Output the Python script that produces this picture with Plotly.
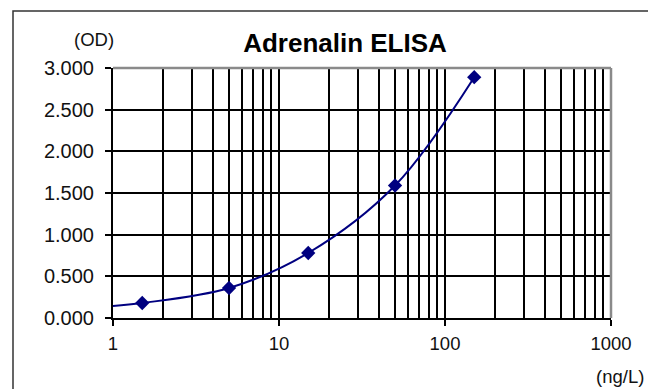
import plotly.graph_objects as go

# Data
conc = [1.5, 5, 15, 50, 150]          # ng/L
od = [0.18, 0.36, 0.78, 1.59, 2.89]  # OD

# fitted curve
curve_x = [1, 1.5, 5, 15, 50, 150]
curve_y = [0.145, 0.18, 0.36, 0.78, 1.59, 2.89]

x_tickvals = [1, 10, 100, 1000]
x_ticktext = ["1", "10", "100", "1000"]
y_tickvals = [0, 0.5, 1.0, 1.5, 2.0, 2.5, 3.0]
y_ticktext = ["0.000", "0.500", "1.000", "1.500", "2.000", "2.500", "3.000"]

minor_vals = [m * d for d in (1, 10, 100) for m in range(2, 10)]

navy = "#000080"
font = "Liberation Sans, Arial, sans-serif"

fig = go.Figure()
fig.add_trace(go.Scatter(x=curve_x, y=curve_y, mode="lines",
                         line=dict(color=navy, width=2, shape="spline"),
                         hoverinfo="skip", showlegend=False))
fig.add_trace(go.Scatter(x=conc, y=od, mode="markers",
                         marker=dict(symbol="diamond", size=11, color=navy),
                         showlegend=False))

fig.update_layout(
    width=648, height=389,
    margin=dict(l=113, r=37, t=68, b=71),
    paper_bgcolor="white", plot_bgcolor="white",
    font=dict(family=font, size=18.5, color="#111111"),
    title=dict(text="<b>Adrenalin ELISA</b>", x=345 / 648, xanchor="center",
               y=1 - 43 / 389, yanchor="middle",
               font=dict(family=font, size=26, color="#000000")),
    xaxis=dict(type="log", range=[0, 3], tickmode="array",
               tickvals=x_tickvals, ticktext=x_ticktext,
               showgrid=True, gridcolor="black", gridwidth=2,
               minor=dict(tickmode="array", tickvals=minor_vals, showgrid=True,
                          gridcolor="black", gridwidth=2, ticks=""),
               showline=True, linecolor="black", linewidth=2,
               ticks="outside", ticklen=6, tickwidth=1.5, tickcolor="black",
               zeroline=False, ticklabelstandoff=2),
    yaxis=dict(range=[0, 3], tickmode="array",
               tickvals=y_tickvals, ticktext=y_ticktext,
               tickfont=dict(size=20),
               showgrid=True, gridcolor="black", gridwidth=2,
               showline=True, linecolor="black", linewidth=2,
               ticks="outside", ticklen=6, tickwidth=1.5, tickcolor="black",
               zeroline=False, ticklabelstandoff=7),
)

# grey top/right plot frame
fig.add_shape(type="line", xref="paper", yref="paper", x0=0, x1=1, y0=1, y1=1,
              line=dict(color="#8a8a8a", width=2.5), layer="above")
fig.add_shape(type="line", xref="paper", yref="paper", x0=1, x1=1, y0=0, y1=1,
              line=dict(color="#8a8a8a", width=2.5), layer="above")

# outer chart border (extends past right/bottom edge)
fig.add_shape(type="rect", xref="paper", yref="paper",
              x0=(13 - 113) / 498, x1=(680 - 113) / 498,
              y0=(318 - 420) / 250, y1=(318 - 11) / 250,
              line=dict(color="#333333", width=1.5), layer="below")

fig.add_annotation(text="(OD)", xref="paper", yref="paper",
                   x=(94 - 113) / 498, y=(318 - 40) / 250,
                   showarrow=False, xanchor="center", yanchor="middle",
                   font=dict(family=font, size=18.5, color="#111111"))
fig.add_annotation(text="(ng/L)", xref="paper", yref="paper",
                   x=(620 - 113) / 498, y=(318 - 376) / 250,
                   showarrow=False, xanchor="center", yanchor="middle",
                   font=dict(family=font, size=18.5, color="#111111"))

fig.write_html("out.html", config={"displayModeBar": False},
               post_script="document.body.style.margin='0';document.body.style.padding='0';")
